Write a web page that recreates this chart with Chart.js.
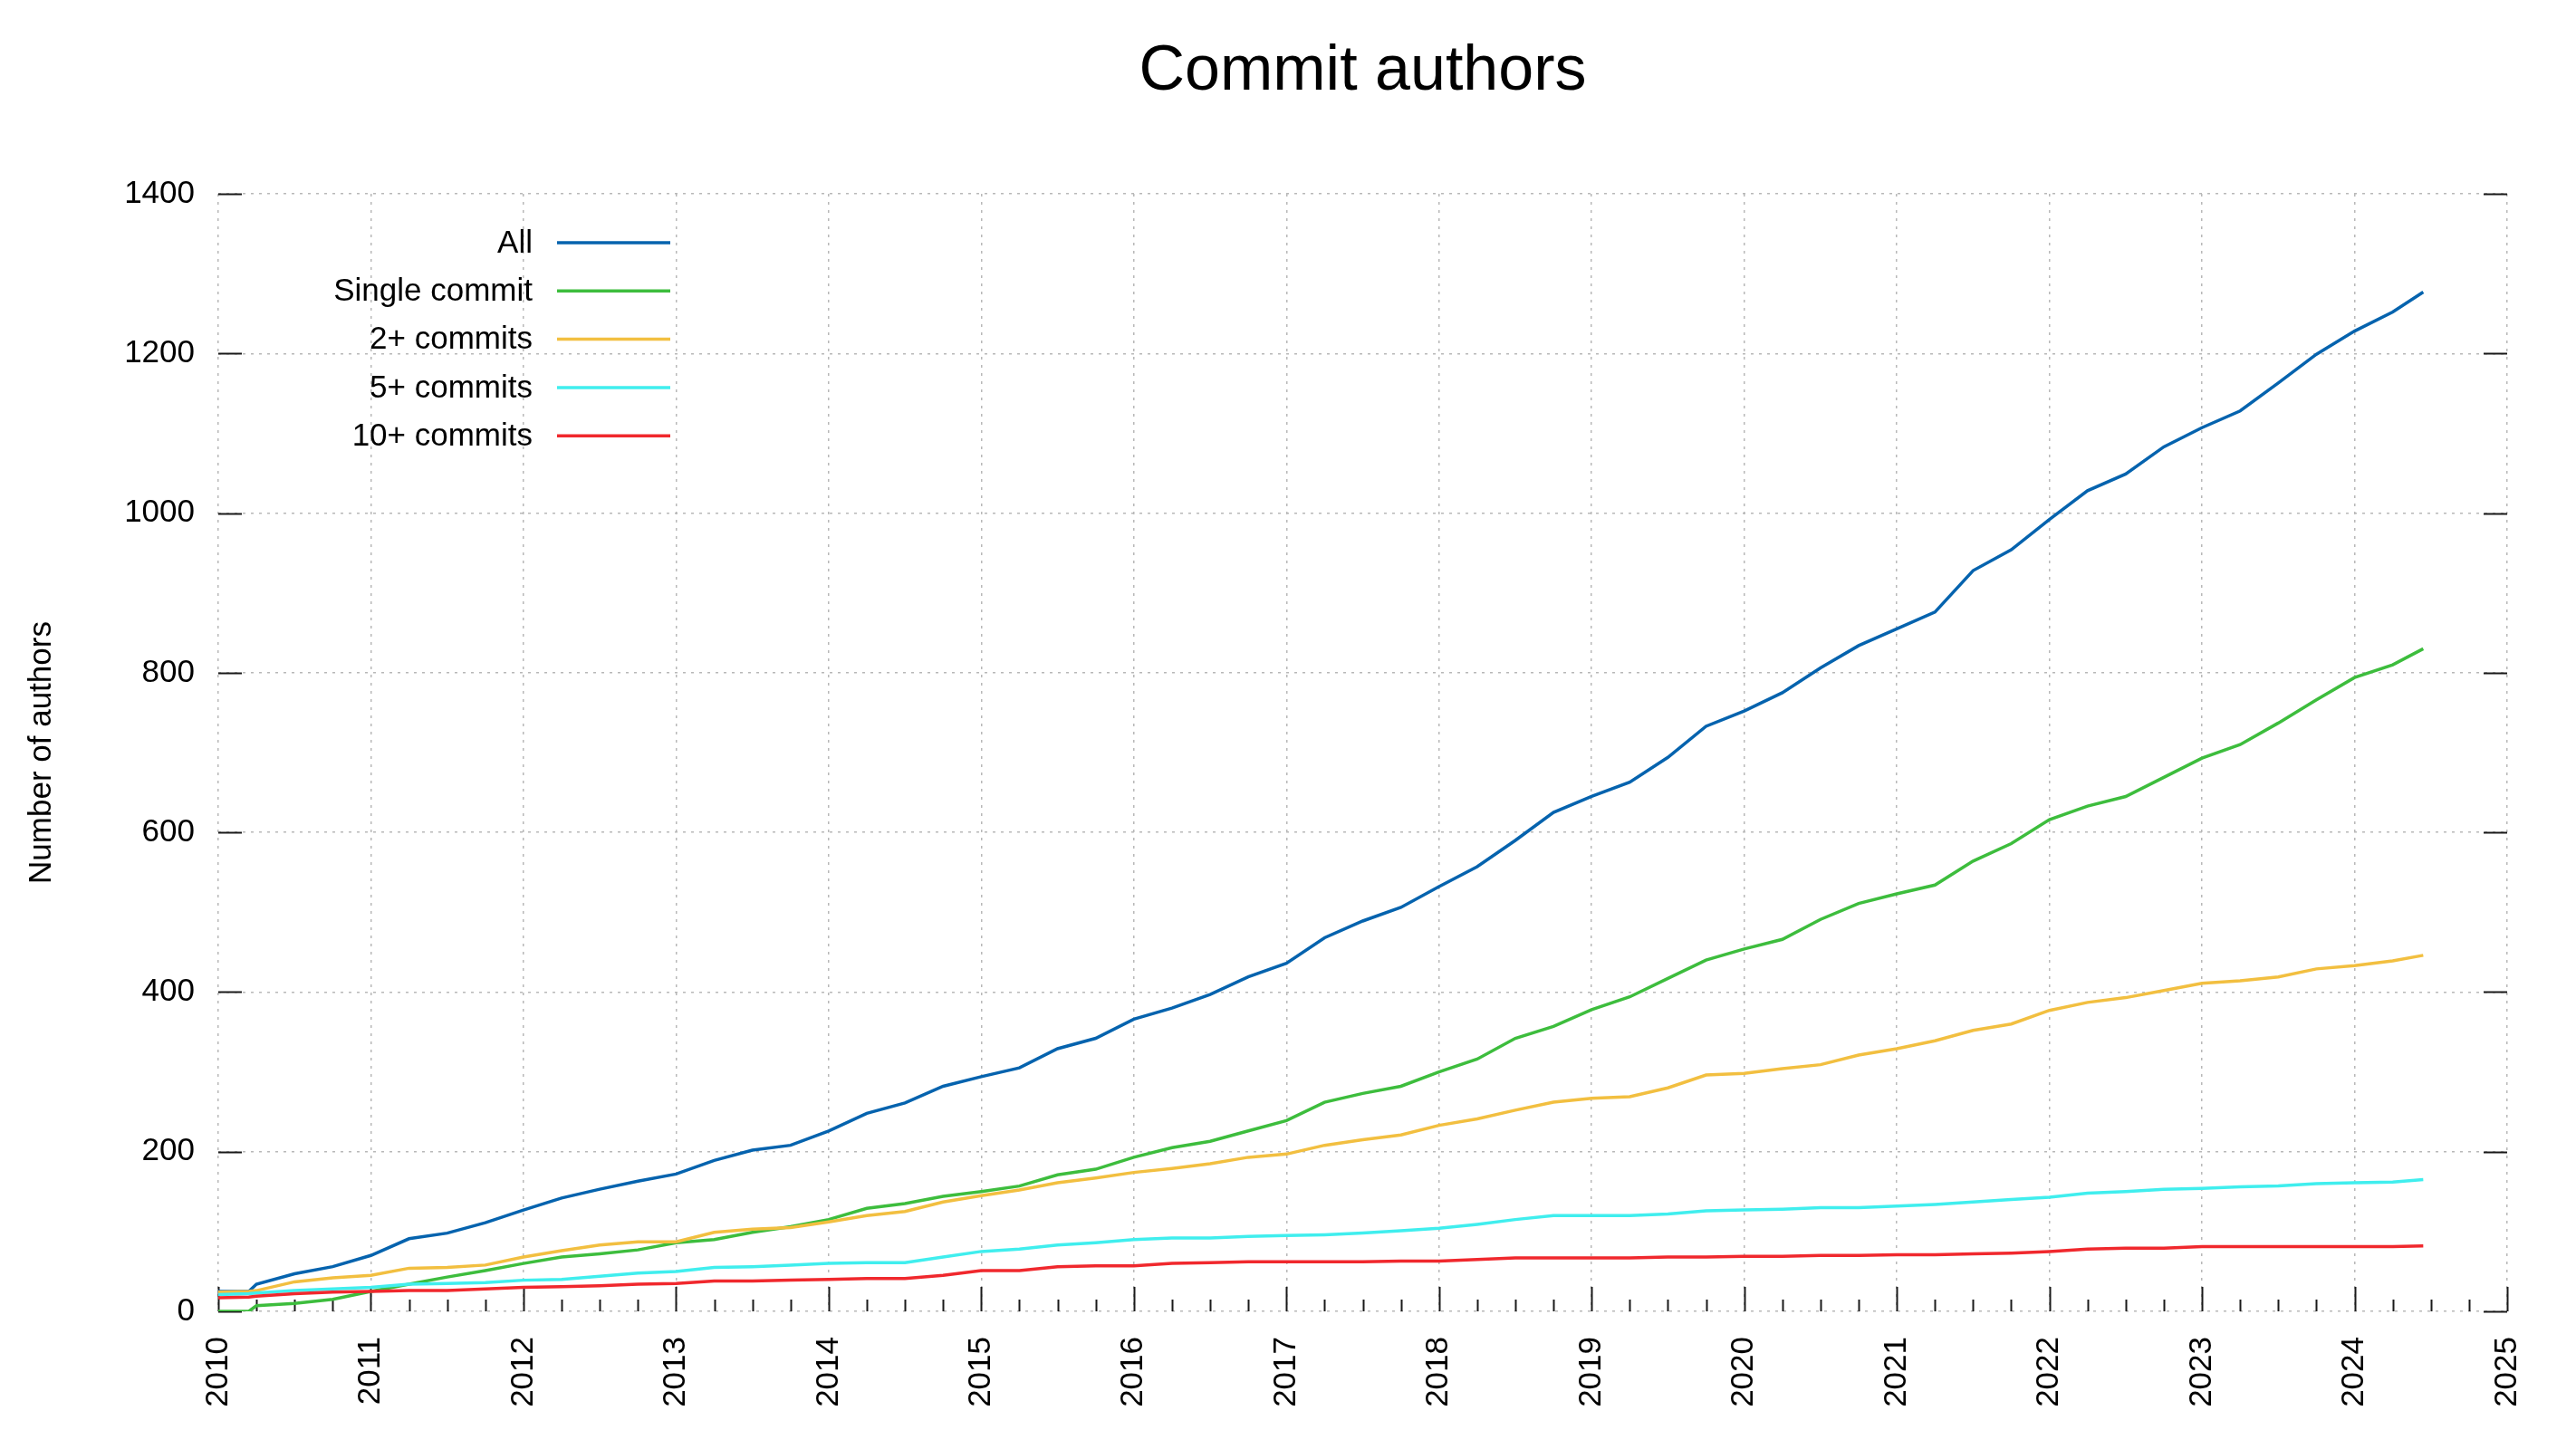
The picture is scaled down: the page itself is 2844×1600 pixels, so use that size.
<!DOCTYPE html>
<html>
<head>
<meta charset="utf-8">
<title>Commit authors</title>
<script src="https://cdn.jsdelivr.net/npm/chart.js@4.4.1/dist/chart.umd.min.js"></script>
<style>
  html, body { margin: 0; padding: 0; background: #fff; }
  #wrap { width: 2844px; height: 1600px; }
</style>
</head>
<body>
<div id="wrap"><canvas id="myChart"></canvas></div>
<script>
// decimal years where the curves were read (quarterly + first jump + last sample)
const years = [
  2010, 2010.2, 2010.25, 2010.5, 2010.75,
  2011, 2011.25, 2011.5, 2011.75,
  2012, 2012.25, 2012.5, 2012.75,
  2013, 2013.25, 2013.5, 2013.75,
  2014, 2014.25, 2014.5, 2014.75,
  2015, 2015.25, 2015.5, 2015.75,
  2016, 2016.25, 2016.5, 2016.75,
  2017, 2017.25, 2017.5, 2017.75,
  2018, 2018.25, 2018.5, 2018.75,
  2019, 2019.25, 2019.5, 2019.75,
  2020, 2020.25, 2020.5, 2020.75,
  2021, 2021.25, 2021.5, 2021.75,
  2022, 2022.25, 2022.5, 2022.75,
  2023, 2023.25, 2023.5, 2023.75,
  2024, 2024.25, 2024.45
];

const allAuthors = [25, 25, 34, 47, 56, 70, 91, 98, 111, 127, 142, 153, 163, 172, 189, 202, 208,
  226, 248, 261, 282, 294, 305, 329, 342, 366, 380, 397, 419, 436, 468, 489, 506,
  532, 557, 590, 625, 645, 663, 694, 733, 752, 775, 806, 834, 855, 876, 928, 954,
  992, 1028, 1049, 1083, 1107, 1128, 1163, 1199, 1228, 1252, 1277];
const singleCommit = [0, 0, 7, 10, 15, 25, 34, 43, 51, 60, 68, 72, 77, 86, 90, 99, 106,
  115, 129, 135, 144, 150, 157, 171, 178, 193, 205, 213, 226, 239, 262, 273, 282,
  300, 316, 342, 357, 378, 394, 417, 440, 454, 466, 491, 511, 523, 534, 564, 586,
  616, 633, 645, 669, 693, 710, 737, 766, 794, 810, 830];
const twoPlus = [24, 25, 26, 37, 42, 45, 54, 55, 58, 68, 76, 83, 87, 87, 99, 103, 105,
  112, 120, 125, 137, 145, 152, 161, 167, 174, 179, 185, 193, 197, 208, 215, 221,
  233, 241, 252, 262, 267, 269, 280, 296, 298, 304, 309, 321, 329, 339, 352, 360,
  377, 387, 393, 402, 411, 414, 419, 429, 433, 439, 446];
const fivePlus = [21, 22, 23, 26, 28, 30, 34, 35, 36, 39, 40, 44, 48, 50, 55, 56, 58,
  60, 61, 61, 68, 75, 78, 83, 86, 90, 92, 92, 94, 95, 96, 98, 101,
  104, 109, 115, 120, 120, 120, 122, 126, 127, 128, 130, 130, 132, 134, 137, 140,
  143, 148, 150, 153, 154, 156, 157, 160, 161, 162, 165];
const tenPlus = [17, 18, 19, 22, 24, 25, 26, 26, 28, 30, 31, 32, 34, 35, 38, 38, 39,
  40, 41, 41, 45, 51, 51, 56, 57, 57, 60, 61, 62, 62, 62, 62, 63,
  63, 65, 67, 67, 67, 67, 68, 68, 69, 69, 70, 70, 71, 71, 72, 73,
  75, 78, 79, 79, 81, 81, 81, 81, 81, 81, 82];

const seriesNames = ['All', 'Single commit', '2+ commits', '5+ commits', '10+ commits'];
const seriesColors = ['#0563ae', '#3dbd3d', '#f2bf40', '#40eeee', '#f0282d'];
const seriesValues = [allAuthors, singleCommit, twoPlus, fivePlus, tenPlus];

const xMin = 2010, xMax = 2025;
const yMin = 0, yMax = 1400, yStep = 200;

const FONT = '"Liberation Sans", Arial, Helvetica, sans-serif';
Chart.defaults.font.family = FONT;
Chart.defaults.color = '#000';

// gnuplot style inward tics: yearly major + quarterly minor on x, mirrored on y
const gnuplotTicks = {
  id: 'gnuplotTicks',
  beforeDatasetsDraw(chart) {
    const {ctx, chartArea: a, scales: {x, y}} = chart;
    ctx.save();
    ctx.strokeStyle = '#1a1a1a';
    ctx.lineWidth = 2;
    ctx.beginPath();
    for (let q = xMin * 4; q <= xMax * 4; q++) {
      const px = Math.round(x.getPixelForValue(q / 4)) + 0.5;
      const len = q % 4 === 0 ? 27 : 13;
      ctx.moveTo(px, a.bottom);
      ctx.lineTo(px, a.bottom - len);
    }
    y.ticks.forEach(t => {
      const py = Math.round(y.getPixelForValue(t.value)) + 0.5;
      ctx.moveTo(a.left, py); ctx.lineTo(a.left + 26, py);
      ctx.moveTo(a.right, py); ctx.lineTo(a.right - 26, py);
    });
    ctx.stroke();
    ctx.restore();
  }
};

// key inside the plot, text right aligned with the line sample after it
const insideKey = {
  id: 'insideKey',
  afterDraw(chart) {
    const {ctx, chartArea: a} = chart;
    ctx.save();
    ctx.font = '35px ' + FONT;
    ctx.textAlign = 'right';
    ctx.textBaseline = 'middle';
    chart.data.datasets.forEach((ds, i) => {
      const yy = a.top + 54 + i * 53.3;
      ctx.fillStyle = '#000';
      ctx.fillText(ds.label, a.left + 347, yy + 1);
      ctx.strokeStyle = ds.borderColor;
      ctx.lineWidth = 3.5;
      ctx.beginPath();
      ctx.moveTo(a.left + 374, yy);
      ctx.lineTo(a.left + 499, yy);
      ctx.stroke();
    });
    ctx.restore();
  }
};

const ctx = document.getElementById('myChart');

new Chart(ctx, {
  type: 'line',
  data: {
    datasets: seriesNames.map((name, i) => ({
      label: name,
      data: years.map((yr, k) => ({x: yr, y: seriesValues[i][k]})),
      borderColor: seriesColors[i],
      backgroundColor: seriesColors[i],
      borderWidth: 3.5,
      pointRadius: 0,
      tension: 0,
      fill: false,
      order: seriesNames.length - i
    }))
  },
  options: {
    responsive: true,
    maintainAspectRatio: false,
    devicePixelRatio: 1,
    animation: false,
    layout: { padding: { top: 0, left: 0, right: 76, bottom: 0 } },
    plugins: {
      legend: { display: false },
      tooltip: { enabled: false },
      title: {
        display: true,
        text: 'Commit authors',
        fullSize: false,
        color: '#000',
        font: { size: 70, weight: 'normal' },
        padding: { top: 38, bottom: 92 }
      }
    },
    scales: {
      x: {
        type: 'linear',
        min: xMin,
        max: xMax,
        border: { display: false, dash: [3, 6] },
        grid: {
          color: '#b8b8b8',
          lineWidth: 1.5,
          drawTicks: false
        },
        ticks: {
          stepSize: 1,
          autoSkip: false,
          maxRotation: 90,
          minRotation: 90,
          padding: 28,
          color: '#000',
          font: { size: 35 },
          callback: v => String(v)
        },
        afterFit: s => { s.height = 152; }
      },
      y: {
        min: yMin,
        max: yMax,
        border: { display: false, dash: [3, 6] },
        grid: {
          color: '#b8b8b8',
          lineWidth: 1.5,
          drawTicks: false
        },
        ticks: {
          stepSize: yStep,
          padding: 26,
          color: '#000',
          font: { size: 35 },
          callback: v => String(v)
        },
        title: {
          display: true,
          text: 'Number of authors',
          color: '#000',
          font: { size: 35 },
          padding: { top: 25, bottom: 0 }
        },
        afterFit: s => { s.width = 241; }
      }
    }
  },
  plugins: [gnuplotTicks, insideKey]
});
</script>
</body>
</html>
